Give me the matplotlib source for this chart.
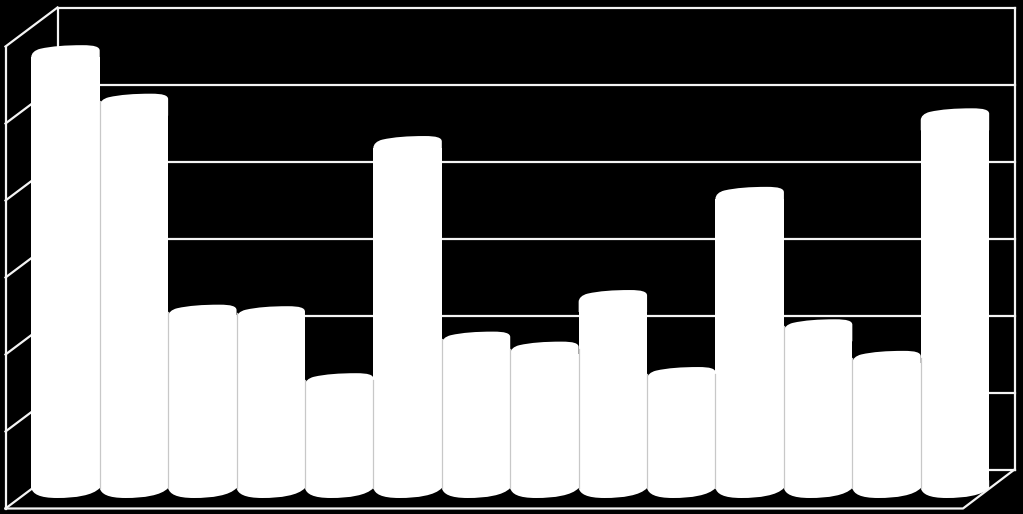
"""Cilindros brancos em parede 3D, fundo preto."""

import matplotlib

matplotlib.use("Agg")
import matplotlib.pyplot as plt
from matplotlib.patches import PathPatch
from matplotlib.path import Path

W, H = 1023, 514
VALORES = [5.66, 5.03, 2.29, 2.27, 1.40, 4.48, 1.94, 1.81, 2.48, 1.48, 3.82, 2.10, 1.69, 4.84]
N_GRADE = 6

# geometria em pixels
PX_UNIDADE = 77.0
PX_BASE = 488.0
PX_X0 = 65.5
PX_PASSO = 68.42
LARG = 1.0
OMBRO = 5 / PX_UNIDADE  # o corpo reto para abaixo do valor, o resto e a tampa


def cap_topo(x0, x1, v):
    u = 1 / PX_UNIDADE
    w = x1 - x0
    verts = [
        (x0, v - 15 * u),
        (x0, v - 5 * u),
        (x0, v - 1 * u), (x0 + 0.05 * w, v + 2 * u), (x0 + 0.13 * w, v + 3.4 * u),
        (x0 + 0.30 * w, v + 6 * u), (x0 + 0.50 * w, v + 7 * u), (x0 + 0.75 * w, v + 7 * u),
        (x0 + 0.92 * w, v + 7 * u), (x1, v + 5.5 * u), (x1, v + 1.5 * u),
        (x1, v - 15 * u),
        (x0, v - 15 * u),
    ]
    codes = [Path.MOVETO, Path.LINETO] + [Path.CURVE4] * 9 + [Path.LINETO, Path.CLOSEPOLY]
    return Path(verts, codes)


def cap_base(x0, x1):
    u = 1 / PX_UNIDADE
    w = x1 - x0
    verts = [
        (x0, 0.1),
        (x0, 0),
        (x0 + 0.02 * w, -6 * u), (x0 + 0.12 * w, -10 * u), (x0 + 0.38 * w, -10 * u),
        (x0 + 0.64 * w, -10 * u), (x0 + 0.90 * w, -7.5 * u), (x1, 0),
        (x1, 0.1),
        (x0, 0.1),
    ]
    codes = [Path.MOVETO, Path.LINETO] + [Path.CURVE4] * 6 + [Path.LINETO, Path.CLOSEPOLY]
    return Path(verts, codes)


def main():
    fig = plt.figure(figsize=(W / 100, H / 100), dpi=100, facecolor="black")

    # moldura em pixels
    ax_f = fig.add_axes([0, 0, 1, 1])
    ax_f.set_xlim(0, W)
    ax_f.set_ylim(H, 0)
    ax_f.axis("off")
    lw = 1.6
    cor = "#f4f4f4"
    for k in range(N_GRADE + 1):
        yb = 469.5 - k * PX_UNIDADE
        yf = 508.5 - k * PX_UNIDADE
        ax_f.plot([5.5, 57.5], [yf, yb], color=cor, lw=lw)
        ax_f.plot([57.5, 1014.5], [yb, yb], color=cor, lw=lw)
    ax_f.plot([5.5, 5.5], [508.5 - N_GRADE * PX_UNIDADE, 508.5], color=cor, lw=lw)
    ax_f.plot([57.5, 57.5], [469.5 - N_GRADE * PX_UNIDADE, 469.5], color=cor, lw=lw)
    ax_f.plot([1014.5, 1014.5], [469.5 - N_GRADE * PX_UNIDADE, 469.5], color=cor, lw=lw)
    ax_f.plot([5.5, 963, 1014.5], [508.5, 508.5, 469.5], color=cor, lw=lw)

    # barras em unidades de dado
    ax = fig.add_axes([0, 0, 1, 1])
    ax.patch.set_alpha(0)
    ax.set_xlim(-PX_X0 / PX_PASSO, (W - PX_X0) / PX_PASSO)
    ax.set_ylim((PX_BASE - H) / PX_UNIDADE, PX_BASE / PX_UNIDADE)
    ax.axis("off")

    xs = list(range(len(VALORES)))
    ax.bar(xs, [v - OMBRO for v in VALORES], width=LARG, color="white", linewidth=0, zorder=2)
    for x, v in zip(xs, VALORES):
        x0, x1 = x - LARG / 2, x + LARG / 2
        ax.add_patch(PathPatch(cap_topo(x0, x1, v), fc="white", ec="none", zorder=3))
        ax.add_patch(PathPatch(cap_base(x0, x1), fc="white", ec="none", zorder=3))
    for x, v, prox in zip(xs, VALORES, VALORES[1:]):
        ax.plot([x + LARG / 2] * 2, [0, min(v, prox)], color="#c8c8c8", lw=0.9, zorder=4)

    fig.savefig("out.png", dpi=100, facecolor="black")
    plt.close(fig)


if __name__ == "__main__":
    main()
